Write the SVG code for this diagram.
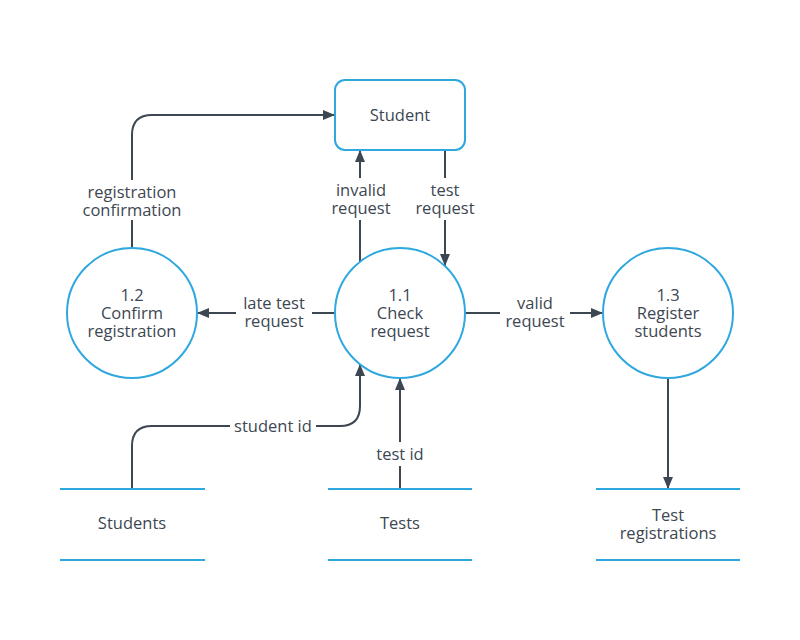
<svg xmlns="http://www.w3.org/2000/svg" width="800" height="640" viewBox="0 0 800 640">
<style>
  .node { fill: #ffffff; stroke: #2ea8df; stroke-width: 2; }
  .store { stroke: #2ea8df; stroke-width: 2; }
  .lbl { font-family: "Open Sans", "Noto Sans", sans-serif; font-size: 16.5px; fill: #3d4752; text-anchor: middle; }
  .edge { fill: none; stroke: #3d4752; stroke-width: 2; }
  .bg { fill: #ffffff; }
</style>
<defs>
  <marker id="arr" viewBox="0 0 12 10" refX="12" refY="5" markerWidth="12" markerHeight="10" markerUnits="userSpaceOnUse" orient="auto">
    <path d="M0,0 L12,5 L0,10 Z" fill="#3d4752"/>
  </marker>
</defs>
<rect width="800" height="640" fill="#ffffff"/>

<g id="connectors">
  <path class="edge" d="M132,248 V135 Q132,115 152,115 H335" marker-end="url(#arr)"/>
  <path class="edge" d="M360,262 V150" marker-end="url(#arr)"/>
  <path class="edge" d="M445,150 V266" marker-end="url(#arr)"/>
  <path class="edge" d="M335,313 H197" marker-end="url(#arr)"/>
  <path class="edge" d="M465,313 H603" marker-end="url(#arr)"/>
  <path class="edge" d="M132,489 V446 Q132,426 152,426 H340 Q360,426 360,406 V364" marker-end="url(#arr)"/>
  <path class="edge" d="M400,489 V378" marker-end="url(#arr)"/>
  <path class="edge" d="M668,378 V489" marker-end="url(#arr)"/>

  <rect class="bg" x="78" y="180" width="108" height="40"/>
  <text class="lbl" x="132" y="198">registration<tspan x="132" dy="18">confirmation</tspan></text>

  <rect class="bg" x="328" y="178" width="66" height="42"/>
  <text class="lbl" x="361" y="196">invalid<tspan x="361" dy="18">request</tspan></text>

  <rect class="bg" x="412" y="178" width="66" height="42"/>
  <text class="lbl" x="445" y="196">test<tspan x="445" dy="18">request</tspan></text>

  <rect class="bg" x="236" y="292" width="76" height="42"/>
  <text class="lbl" x="274" y="309">late test<tspan x="274" dy="18">request</tspan></text>

  <rect class="bg" x="500" y="292" width="70" height="42"/>
  <text class="lbl" x="535" y="309">valid<tspan x="535" dy="18">request</tspan></text>

  <rect class="bg" x="230" y="415" width="86" height="22"/>
  <text class="lbl" x="273" y="432">student id</text>

  <rect class="bg" x="372" y="442" width="56" height="24"/>
  <text class="lbl" x="400" y="460">test id</text>
</g>

<g id="student">
  <rect class="node" x="335" y="80" width="130" height="70" rx="10"/>
  <text class="lbl" x="400" y="121">Student</text>
</g>

<g id="p1_1">
  <circle class="node" cx="400" cy="313" r="65"/>
  <text class="lbl" x="400" y="301">1.1<tspan x="400" dy="18">Check</tspan><tspan x="400" dy="18">request</tspan></text>
</g>

<g id="p1_2">
  <circle class="node" cx="132" cy="313" r="65"/>
  <text class="lbl" x="132" y="301">1.2<tspan x="132" dy="18">Confirm</tspan><tspan x="132" dy="18">registration</tspan></text>
</g>

<g id="p1_3">
  <circle class="node" cx="668" cy="313" r="65"/>
  <text class="lbl" x="668" y="301">1.3<tspan x="668" dy="18">Register</tspan><tspan x="668" dy="18">students</tspan></text>
</g>

<g id="students">
  <line class="store" x1="60" y1="489" x2="205" y2="489"/>
  <line class="store" x1="60" y1="560" x2="205" y2="560"/>
  <text class="lbl" x="132" y="529">Students</text>
</g>

<g id="tests">
  <line class="store" x1="328" y1="489" x2="472" y2="489"/>
  <line class="store" x1="328" y1="560" x2="472" y2="560"/>
  <text class="lbl" x="400" y="529">Tests</text>
</g>

<g id="test_registrations">
  <line class="store" x1="596" y1="489" x2="740" y2="489"/>
  <line class="store" x1="596" y1="560" x2="740" y2="560"/>
  <text class="lbl" x="668" y="521">Test<tspan x="668" dy="18">registrations</tspan></text>
</g>
</svg>
